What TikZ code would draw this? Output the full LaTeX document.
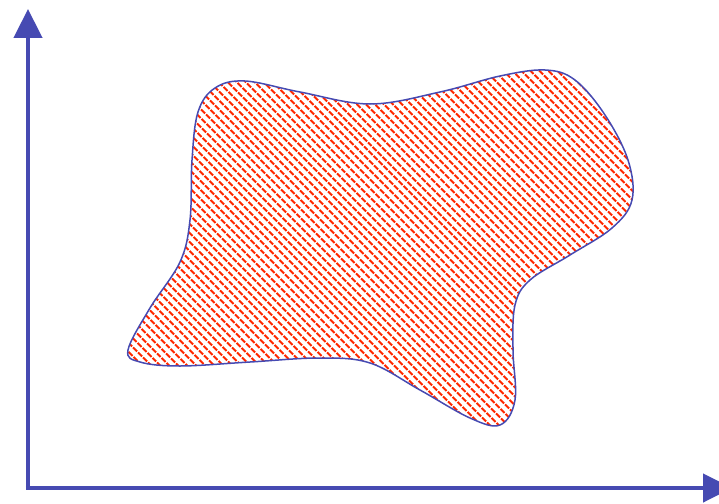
\documentclass[tikz,border=0pt]{standalone}
\usetikzlibrary{patterns.meta,arrows.meta}
\definecolor{axisblue}{RGB}{70,74,178}
\definecolor{hatchred}{RGB}{255,40,0}
\tikzset{
  axis/.style={line width=4.5pt, color=axisblue, -{Triangle[width=28pt,length=29pt]}},
  blob/.style={draw=axisblue, line width=1.5pt, pattern={Lines[angle=-45,distance=6.4pt,line width=2.2pt]}, pattern color=hatchred}
}
\begin{document}
\begin{tikzpicture}[x=1pt,y=-1pt]
\useasboundingbox (0,0) rectangle (719,503);
\coordinate (origin) at (28,488);
\coordinate (ytip) at (28,9);
\coordinate (xtip) at (732,488);
\draw[blob] plot[smooth cycle, tension=0.6] coordinates {
(128,350) (150,308) (180,262) (190,220) (192,160) (198,112) (215,88) (245,81)
(300,92) (370,104) (440,92) (500,76) (545,70) (575,80) (605,115) (628,160)
(632,200) (612,228) (570,255) (530,280) (515,305) (513,350) (515,400) (500,425)
(470,418) (420,390) (370,363) (320,358) (250,362) (180,366) (140,362)};
\draw[axis] ([xshift=0pt]origin) -- (ytip);
\draw[axis] ([xshift=-2.25pt]origin) -- (xtip);
\end{tikzpicture}
\end{document}
